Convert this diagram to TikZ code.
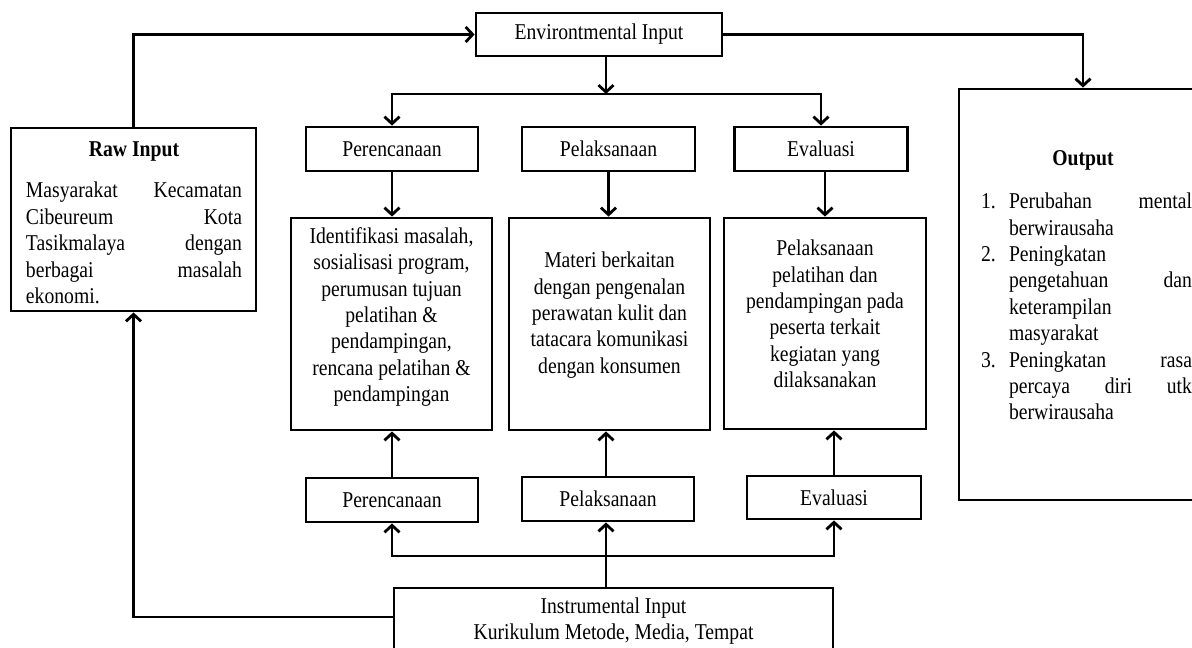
\documentclass[tikz,border=0pt]{standalone}
\usepackage{fontspec}
\setmainfont{Liberation Serif}[FakeStretch=0.87]
\usepackage{tikz}
\usetikzlibrary{arrows.meta}
\newcommand{\diagfont}{\fontsize{22.6pt}{26.4pt}\selectfont}
\newcommand{\sline}[2]{\makebox[#1][s]{#2}}

\begin{document}
\begin{tikzpicture}[x=1pt, y=-1pt, line width=2.8pt,
  >={Straight Barb[length=7pt,width=15pt]},
  box/.style={draw, line width=2.8pt, inner sep=0pt, align=center, font=\diagfont},
  smallbox/.style={box, minimum width=172pt, minimum height=44pt},
  bigbox/.style={box, minimum width=201pt, minimum height=212pt},
  txt/.style={inner sep=0pt, font=\diagfont}]
\useasboundingbox (0,0) rectangle (1192,648);

% Input and output
\node[box, minimum width=246pt, minimum height=43pt] (env) at (599,34.5) {Environtmental Input};
\node[box, minimum width=245pt, minimum height=183pt] (raw) at (133.5,219.5) {};
\node[txt, align=left] (rawtxt) at (134,223) {%
  \makebox[216pt]{\bfseries Raw Input}\\[14.6pt]
  \sline{216pt}{Masyarakat Kecamatan}\\
  \sline{216pt}{Cibeureum Kota}\\
  \sline{216pt}{Tasikmalaya dengan}\\
  \sline{216pt}{berbagai masalah}\\
  ekonomi.};
\node[box, minimum width=248pt, minimum height=411pt] (out) at (1083,294.5) {};
\node[txt, align=left] (outtxt) at (1086.5,285.5) {%
  \makebox[204pt]{\bfseries Output}\\[16.6pt]
  \makebox[28pt][l]{1.}\sline{183pt}{Perubahan mental}\\
  \hspace*{28pt}berwirausaha\\
  \makebox[28pt][l]{2.}Peningkatan\\
  \hspace*{28pt}\sline{183pt}{pengetahuan dan}\\
  \hspace*{28pt}keterampilan\\
  \hspace*{28pt}masyarakat\\
  \makebox[28pt][l]{3.}\sline{183pt}{Peningkatan rasa}\\
  \hspace*{28pt}\sline{183pt}{percaya diri utk}\\
  \hspace*{28pt}berwirausaha};

% Process row
\node[smallbox] (planTop) at (392,149) {Perencanaan};
\node[smallbox, minimum width=173pt] (doTop) at (608.5,149) {Pelaksanaan};
\node[smallbox, minimum width=173pt] (evalTop) at (821,149) {Evaluasi};

\node[bigbox] (planBox) at (391.5,324) {};
\node[txt, align=center] (planTxt) at (391.5,317) {Identifikasi masalah,\\ sosialisasi program,\\ perumusan tujuan\\ pelatihan \&\\ pendampingan,\\ rencana pelatihan \&\\ pendampingan};
\node[bigbox] (doBox) at (609.5,324) {};
\node[txt, align=center] (doTxt) at (609.5,315) {Materi berkaitan\\ dengan pengenalan\\ perawatan kulit dan\\ tatacara komunikasi\\ dengan konsumen};
\node[bigbox, minimum width=202pt, minimum height=211pt] (evalBox) at (825,323.5) {};
\node[txt, align=center] (evalTxt) at (825,314) {Pelaksanaan\\ pelatihan dan\\ pendampingan pada\\ peserta terkait\\ kegiatan yang\\ dilaksanakan};

\node[smallbox] (planBot) at (392,500) {Perencanaan};
\node[smallbox] (doBot) at (608,499) {Pelaksanaan};
\node[smallbox, minimum width=174pt, minimum height=43pt] (evalBot) at (834,497.5) {Evaluasi};

\node[box, minimum width=439pt, minimum height=66pt] (instr) at (613.5,621) {Instrumental Input\\ Kurikulum Metode, Media, Tempat};

% Connectors
\coordinate (jtop) at (606,94);
\coordinate (jbot) at (606,556);
\draw[->] (raw.north) |- (env.west);
\draw[->] (env.south -| jtop) -- (jtop);
\draw[->] (jtop) -| (planTop.north);
\draw[->] (jtop) -| (evalTop.north);
\draw[->] (env.east) -| (out.north);

\draw[->] (planTop.south) -- (planTop.south |- planBox.north);
\draw[->] (doTop.south) -- (doTop.south |- doBox.north);
\draw[->] (evalBox.north |- evalTop.south) -- (evalBox.north);

\draw[->] (planBot.north) -- (planBot.north |- planBox.south);
\draw[->] (doBot.north -| jbot) -- (jbot |- doBox.south);
\draw[->] (evalBot.north) -- (evalBot.north |- evalBox.south);

\draw[->] (instr.north -| jbot) -- (jbot |- doBot.south);
\draw[->] (jbot) -| (planBot.south);
\draw[->] (jbot) -| (evalBot.south);
\draw[->] ([yshift=4pt]instr.west) -| (raw.south);
\end{tikzpicture}
\end{document}
